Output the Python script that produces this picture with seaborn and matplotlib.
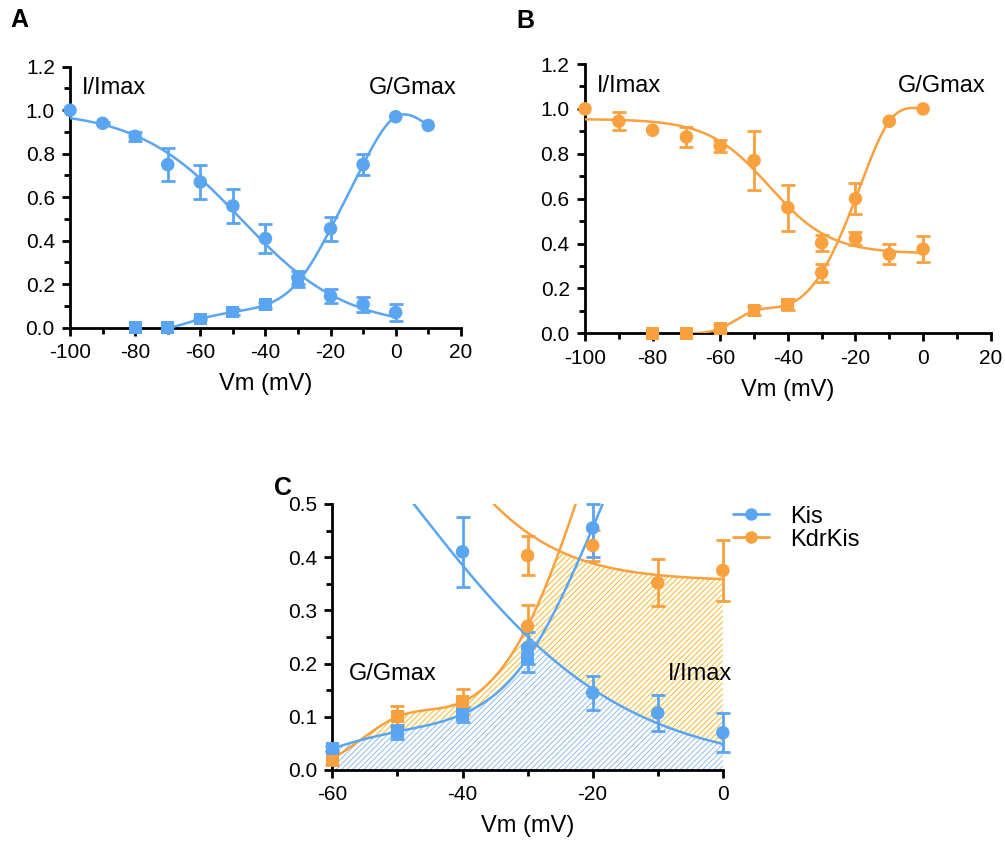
import numpy as np
import matplotlib
matplotlib.use('Agg')
import matplotlib.pyplot as plt
import seaborn as sns
from matplotlib.lines import Line2D
from matplotlib.ticker import MultipleLocator, FormatStrFormatter

# ---- data ----
v_i = [-100, -90, -80, -70, -60, -50, -40, -30, -20, -10, 0]

kis_i = [1.0, 0.94, 0.88, 0.75, 0.67, 0.56, 0.41, 0.23, 0.145, 0.107, 0.07]
kis_i_err = [0, 0.005, 0.02, 0.075, 0.08, 0.08, 0.066, 0.03, 0.032, 0.034, 0.037]
v_g_kis = [-80, -70, -60, -50, -40, -30, -20, -10, 0, 10]
kis_g = [0.0, 0.0, 0.04, 0.072, 0.105, 0.21, 0.455, 0.75, 0.97, 0.93]
kis_g_err = [0, 0, 0.005, 0.013, 0.014, 0.025, 0.055, 0.05, 0, 0]
kis_g_marker = ['s', 's', 's', 's', 's', 's', 'o', 'o', 'o', 'o']

kdr_i = [1.0, 0.945, 0.905, 0.875, 0.835, 0.77, 0.56, 0.403, 0.422, 0.352, 0.375]
kdr_i_err = [0, 0.04, 0, 0.045, 0.025, 0.132, 0.103, 0.037, 0.03, 0.044, 0.058]
v_g_kdr = [-80, -70, -60, -50, -40, -30, -20, -10, 0]
kdr_g = [0.0, 0.0, 0.022, 0.10, 0.128, 0.27, 0.60, 0.945, 1.0]
kdr_g_err = [0, 0, 0.013, 0.02, 0.024, 0.04, 0.068, 0, 0]
kdr_g_marker = ['s', 's', 's', 's', 's', 'o', 'o', 'o', 'o']

# Boltzmann fit parameters for I/Imax (top, bottom, V1/2, slope)
kis_fit = (1.0, 0.0, -47.5, 16.0)
kdr_fit = (0.955, 0.355, -45.5, 9.0)

BLUE = '#5AA5F2'
ORANGE = '#F9A03F'
BLUE_HATCH = '#8FBBEA'
ORANGE_HATCH = '#F4B82A'


def boltzmann(v, p):
    top, bottom, vh, k = p
    return bottom + (top - bottom) / (1 + np.exp((v - vh) / k))


def natural_spline(x, y, xs):
    x = np.asarray(x, float)
    y = np.asarray(y, float)
    n = len(x)
    h = np.diff(x)
    A = np.zeros((n, n))
    r = np.zeros(n)
    A[0, 0] = A[-1, -1] = 1
    for i in range(1, n - 1):
        A[i, i - 1] = h[i - 1]
        A[i, i] = 2 * (h[i - 1] + h[i])
        A[i, i + 1] = h[i]
        r[i] = 6 * ((y[i + 1] - y[i]) / h[i] - (y[i] - y[i - 1]) / h[i - 1])
    m = np.linalg.solve(A, r)
    j = np.clip(np.searchsorted(x, xs) - 1, 0, n - 2)
    hj = h[j]
    a = (x[j + 1] - xs) / hj
    b = (xs - x[j]) / hj
    return (a * y[j] + b * y[j + 1]
            + ((a ** 3 - a) * m[j] + (b ** 3 - b) * m[j + 1]) * hj ** 2 / 6)


sns.set_style('ticks')
plt.rcParams['font.family'] = ['Liberation Sans', 'DejaVu Sans']
plt.rcParams['axes.unicode_minus'] = False
plt.rcParams['hatch.linewidth'] = 0.7
for key in ['text.color', 'axes.labelcolor', 'xtick.color', 'ytick.color', 'axes.edgecolor']:
    plt.rcParams[key] = 'black'

fig = plt.figure(figsize=(10.05, 8.49), dpi=100)
axA = fig.add_axes([0.0697, 0.614, 0.3888, 0.3074])
axB = fig.add_axes([0.5821, 0.6074, 0.4037, 0.3172])
axC = fig.add_axes([0.3307, 0.0931, 0.3885, 0.3133])

TICK_FS = 15
LABEL_FS = 17


def draw_points(ax, x, y, err, markers, color, xlim, ylim):
    x = np.asarray(x, float)
    y = np.asarray(y, float)
    err = np.asarray(err, float)
    mk = np.asarray(markers)
    keep = (x >= xlim[0]) & (x <= xlim[1]) & (y >= ylim[0]) & (y <= ylim[1])
    x, y, err, mk = x[keep], y[keep], err[keep], mk[keep]
    has = err > 0
    lo = np.minimum(err, y - ylim[0])
    hi = np.minimum(err, ylim[1] - y)
    ax.errorbar(x[has], y[has], yerr=[lo[has], hi[has]], fmt='none', ecolor=color,
                elinewidth=2, capsize=5, capthick=2, zorder=4, clip_on=False)
    for m in ['s', 'o']:
        sel = mk == m
        if sel.any():
            sns.scatterplot(x=x[sel], y=y[sel], marker=m, s=95 if m == 'o' else 85,
                            color=color, edgecolor='none', ax=ax, zorder=5,
                            clip_on=False)


def draw_panel(ax, v_g, g, g_err, g_mk, i, i_err, fit, color, xlim, ylim):
    vv = np.linspace(max(v_i[0], xlim[0]), v_i[-1], 300)
    sns.lineplot(x=vv, y=boltzmann(vv, fit), color=color, lw=1.8, ax=ax, zorder=3)
    vg = np.linspace(max(v_g[1], xlim[0]), v_g[-1], 300)
    sns.lineplot(x=vg, y=natural_spline(v_g, g, vg), color=color, lw=1.8, ax=ax, zorder=3)
    draw_points(ax, v_i, i, i_err, ['o'] * len(v_i), color, xlim, ylim)
    draw_points(ax, v_g, g, g_err, g_mk, color, xlim, ylim)
    ax.set_xlim(*xlim)
    ax.set_ylim(*ylim)


def style_axes(ax, xmaj, xmin, ymaj, ymin):
    sns.despine(ax=ax)
    for s in ['left', 'bottom']:
        ax.spines[s].set_linewidth(2)
    ax.xaxis.set_major_locator(MultipleLocator(xmaj))
    ax.xaxis.set_minor_locator(MultipleLocator(xmin))
    ax.yaxis.set_major_locator(MultipleLocator(ymaj))
    ax.yaxis.set_minor_locator(MultipleLocator(ymin))
    ax.yaxis.set_major_formatter(FormatStrFormatter('%.1f'))
    ax.tick_params(which='major', length=6, width=2, labelsize=TICK_FS, pad=5,
                   direction='out', color='black')
    ax.tick_params(axis='x', which='major', pad=5)
    ax.tick_params(which='minor', length=4, width=2, direction='out', color='black')
    ax.set_xlabel('Vm (mV)', fontsize=LABEL_FS, labelpad=8)
    ax.set_ylabel('')


# Panel A
draw_panel(axA, v_g_kis, kis_g, kis_g_err, kis_g_marker, kis_i, kis_i_err,
           kis_fit, BLUE, (-100, 20), (0, 1.2))
style_axes(axA, 20, 10, 0.2, 0.1)
axA.text(-96.4, 1.1, 'I/Imax', fontsize=LABEL_FS, va='center', ha='left')
axA.text(18.6, 1.1, 'G/Gmax', fontsize=LABEL_FS, va='center', ha='right')

# Panel B
draw_panel(axB, v_g_kdr, kdr_g, kdr_g_err, kdr_g_marker, kdr_i, kdr_i_err,
           kdr_fit, ORANGE, (-100, 20), (0, 1.2))
style_axes(axB, 20, 10, 0.2, 0.1)
axB.text(-96.5, 1.1, 'I/Imax', fontsize=LABEL_FS, va='center', ha='left')
axB.text(18.4, 1.1, 'G/Gmax', fontsize=LABEL_FS, va='center', ha='right')

# Panel C
vf = np.linspace(-60, 0, 400)
kdr_low = np.minimum(natural_spline(v_g_kdr, kdr_g, vf), boltzmann(vf, kdr_fit))
kis_low = np.minimum(natural_spline(v_g_kis, kis_g, vf), boltzmann(vf, kis_fit))
axC.fill_between(vf, 0, kdr_low, facecolor='white', edgecolor=ORANGE_HATCH,
                 hatch='//////', linewidth=0, zorder=1)
axC.fill_between(vf, 0, kis_low, facecolor='white', edgecolor=BLUE_HATCH,
                 hatch='//////', linewidth=0, zorder=2)
draw_panel(axC, v_g_kdr, kdr_g, kdr_g_err, kdr_g_marker, kdr_i, kdr_i_err,
           kdr_fit, ORANGE, (-60, 0), (0, 0.5))
draw_panel(axC, v_g_kis, kis_g, kis_g_err, kis_g_marker, kis_i, kis_i_err,
           kis_fit, BLUE, (-60, 0), (0, 0.5))
style_axes(axC, 20, 10, 0.1, 0.05)
axC.text(-57.5, 0.18, 'G/Gmax', fontsize=LABEL_FS, va='center', ha='left', zorder=6)
axC.text(-8.4, 0.18, 'I/Imax', fontsize=LABEL_FS, va='center', ha='left', zorder=6,
         clip_on=False)

handles = [Line2D([], [], color=BLUE, lw=2, marker='o', markersize=8),
           Line2D([], [], color=ORANGE, lw=2, marker='o', markersize=8)]
axC.legend(handles, ['Kis', 'KdrKis'], loc='upper left', bbox_to_anchor=(0.972, 1.074),
           frameon=False, fontsize=LABEL_FS, handlelength=1.5,
           handletextpad=0.9, labelspacing=0.05)

fig.text(10 / 1005, 1 - 8 / 849, 'A', fontsize=18, fontweight='bold', va='top', ha='left')
fig.text(516 / 1005, 1 - 9 / 849, 'B', fontsize=18, fontweight='bold', va='top', ha='left')
fig.text(274 / 1005, 1 - 476 / 849, 'C', fontsize=18, fontweight='bold', va='top', ha='left')

fig.savefig('out.png', dpi=100)
